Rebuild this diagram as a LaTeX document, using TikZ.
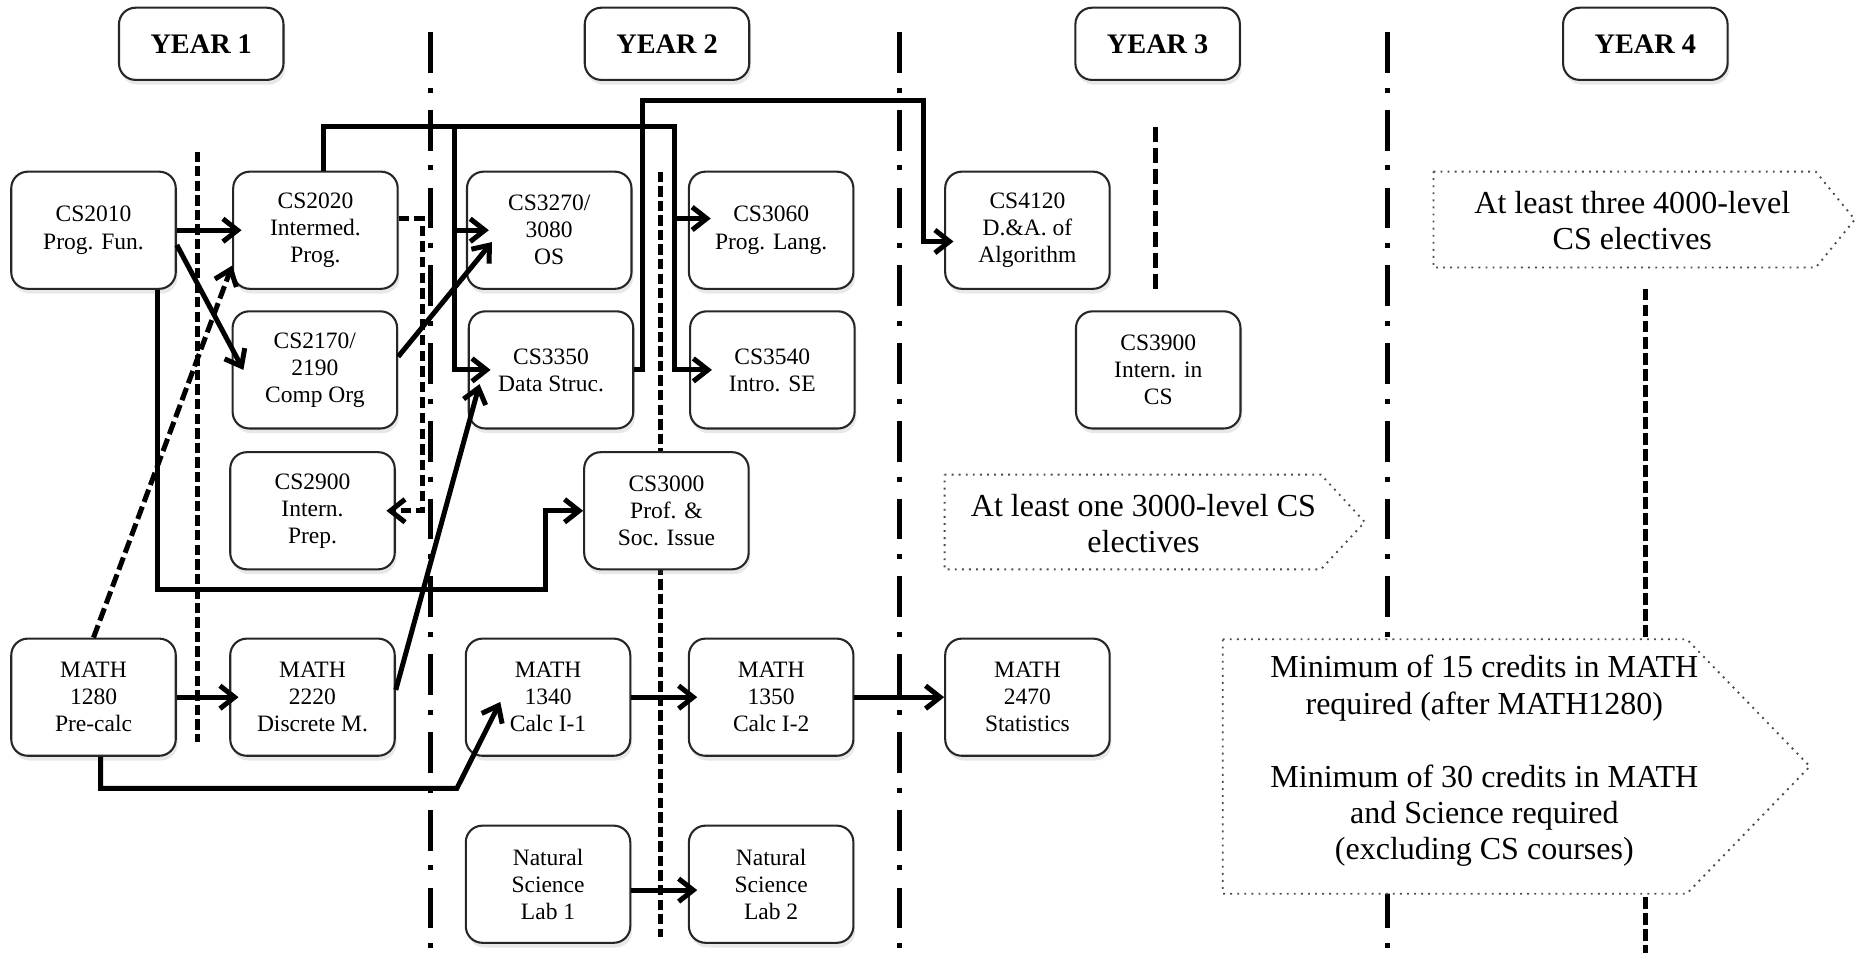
\documentclass[tikz,border=0pt]{standalone}
\usepackage{fontspec}
\setmainfont{Liberation Serif}
\usetikzlibrary{arrows.meta}
\usetikzlibrary{shadows}
\tikzset{>={Straight Barb[length=7pt,width=11pt]}}
\tikzset{course/.style = {shape=rectangle, draw=black!85, line width=1pt,
rounded corners=0.28cm, fill=white, minimum width=2.78cm, minimum height=1.98cm,
inner sep=0pt, align=center, font=\fontsize{11.3}{13}\selectfont,
drop shadow={opacity=0.18, shadow xshift=0.03cm, shadow yshift=-0.08cm}}}
\tikzset{year/.style = {course, minimum height=1.22cm, font=\fontsize{13.6}{16}\selectfont\bfseries}}
\tikzset{link/.style = {->, line width=2.4pt}}
\tikzset{deep/.style = {shorten >=-11pt}}
\tikzset{half/.style = {shorten >=-4.5pt}}
\tikzset{border/.style = {line width=2.4pt, dash pattern=on 19.6pt off 7.2pt on 2.4pt off 8.2pt}}
\tikzset{inner/.style = {line width=2.2pt, dash pattern=on 5pt off 2pt}}
\tikzset{note/.style = {draw=black!70, line width=0.9pt, dash pattern=on 0.9pt off 2.5pt, fill=white}}
\tikzset{notetext/.style = {align=center, font=\fontsize{15.4}{17.5}\selectfont}}

\begin{document}
\begin{tikzpicture}[x=0.02cm, y=-0.02cm]
                \useasboundingbox (0,0) rectangle (1568,815);

                \draw[border] (364,27) -- (364,805);
                \draw[border] (760,27) -- (760,805);
                \draw[border] (1172,27) -- (1172,805);
                \draw[inner] (167,128) -- (167,627);
                \draw[inner] (558,145) -- (558,792);
                \draw[inner, dash pattern=on 7.2pt off 2.9pt] (976,107) -- (976,244);
                \draw[inner, dash pattern=on 5.6pt off 2.1pt] (1390,244) -- (1390,805);

                \draw[note] (1211,145) -- (1534,145) -- (1567,185.5) -- (1534,226) -- (1211,226) -- cycle;
                \draw[note] (798,401) -- (1116,401) -- (1153,441) -- (1116,481) -- (798,481) -- cycle;
                \draw[note] (1033,540) -- (1425,540) -- (1529,647.5) -- (1425,755) -- (1033,755) -- cycle;
                \node[notetext] (E4) at (1379,186.5) {At least three 4000-level\\CS electives};
                \node[notetext] (E3) at (966,442.5) {At least one 3000-level CS\\electives};
                \node[notetext] (MS) at (1254,643) {Minimum of 15 credits in MATH\\required (after MATH1280)\\[17.5pt]Minimum of 30 credits in MATH\\and Science required\\(excluding CS courses)};

                \node[year] (Y1) at (170,37) {YEAR 1};
                \node[year] (Y2) at (563.5,37) {YEAR 2};
                \node[year] (Y3) at (978,37) {YEAR 3};
                \node[year] (Y4) at (1390,37) {YEAR 4};

                \node[course] (CS2010) at (79,194.5) {CS2010\\Prog. Fun.};
                \node[course] (CS2020) at (266.5,194.5) {CS2020\\Intermed.\\Prog.};
                \node[course] (CS2170) at (266,312.5) {CS2170/\\2190\\Comp Org};
                \node[course] (CS2900) at (264,431.5) {CS2900\\Intern.\\Prep.};
                \node[course] (CS3270) at (464,194.5) {CS3270/\\3080\\OS};
                \node[course] (CS3350) at (465.5,312.5) {CS3350\\Data Struc.};
                \node[course] (CS3000) at (563,431.5) {CS3000\\Prof. \&\\Soc. Issue};
                \node[course] (CS3060) at (651.5,194.5) {CS3060\\Prog. Lang.};
                \node[course] (CS3540) at (652.5,312.5) {CS3540\\Intro. SE};
                \node[course] (CS4120) at (868,194.5) {CS4120\\D.\&A. of\\Algorithm};
                \node[course] (CS3900) at (978.5,312.5) {CS3900\\Intern. in\\CS};
                \node[course] (M1280) at (79,589) {MATH\\1280\\Pre-calc};
                \node[course] (M2220) at (264,589) {MATH\\2220\\Discrete M.};
                \node[course] (M1340) at (463,589) {MATH\\1340\\Calc I-1};
                \node[course] (M1350) at (651.5,589) {MATH\\1350\\Calc I-2};
                \node[course] (M2470) at (868,589) {MATH\\2470\\Statistics};
                \node[course] (LAB1) at (463,747) {Natural\\Science\\Lab 1};
                \node[course] (LAB2) at (651.5,747) {Natural\\Science\\Lab 2};

                \coordinate (t1) at (384,107);
                \coordinate (t2) at (570,107);
                \coordinate (t3) at (543,85);
                \coordinate (t4) at (780,204);
                \coordinate (t5) at (357,300);
                \coordinate (t6) at (461,498);
                \coordinate (t7) at (386,666);

                \draw[link, half] (CS2010) -- (CS2020);
                \draw[link] (CS2010.-10) -- ([xshift=0.2cm]CS2170.west);
                \draw[link, dash pattern=on 6.3pt off 2.4pt] (M1280.north) -- (CS2020.203);
                \draw[link, deep] ([xshift=0.13cm]CS2020.north) |- (t2) |- (CS3540.west);
                \draw[link, deep] (t1) |- (CS3270.west);
                \draw[link, deep] (t1) |- (CS3350.west);
                \draw[link, deep] (t2) |- (CS3060.172);
                \draw[link, half] (CS3350.east) -| (t3) -| (t4) -- (t4 -| CS4120.west);
                \draw[link, half, dash pattern=on 5pt off 2.5pt] (CS2020.8) -| (t5) |- (CS2900.east);
                \draw[link] ([xshift=1.08cm]CS2010.south) |- (t6) |- (CS3000.west);
                \draw[link] (CS2170.9) -- ([shift={(22,10)}]CS3270.west);
                \draw[link] (M2220.5) -- ([shift={(10,12)}]CS3350.west);
                \draw[link, half] (M1280) -- (M2220);
                \draw[link] ([xshift=0.12cm]M1280.south) |- (t7) -- ([shift={(30,4)}]M1340.west);
                \draw[link, half] (M1340) -- (M1350);
                \draw[link] (M1350) -- (M2470);
                \draw[link, half] ([yshift=-0.1cm]LAB1.east) -- ([yshift=-0.1cm]LAB2.west);
            \end{tikzpicture}
\end{document}
